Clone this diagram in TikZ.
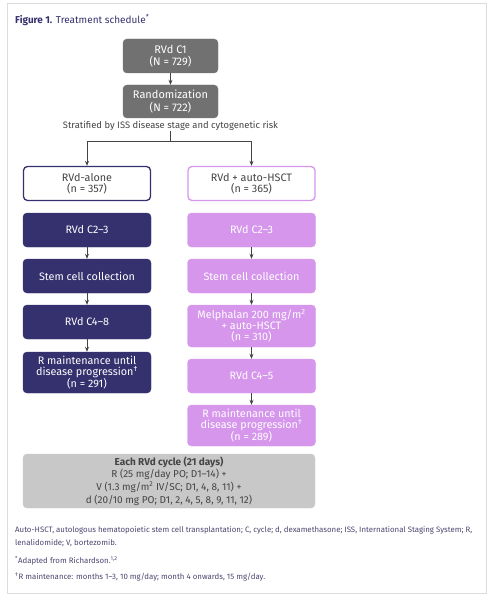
\documentclass[tikz,border=0pt]{standalone}
\usepackage{fontspec}
\setmainfont{Fira Sans}
\usetikzlibrary{arrows.meta}
\definecolor{navy}{HTML}{35306E}
\definecolor{lilac}{HTML}{D596EC}
\definecolor{dgray}{HTML}{717171}
\definecolor{lgray}{HTML}{C8C8C8}
\definecolor{ink}{HTML}{444444}
\definecolor{frame}{HTML}{DCDCDC}
\definecolor{note}{HTML}{4A4670}
\begin{document}
\begin{tikzpicture}[x=1pt,y=-1pt,
  box/.style={rounded corners=4pt, align=center, inner sep=1pt, font=\fontsize{10.8}{11.2}\selectfont},
  topbox/.style={box, fill=dgray, draw=dgray, text=white, minimum width=95pt, font=\fontsize{11}{12.5}\selectfont},
  navybox/.style={box, fill=navy, draw=navy, text=white, minimum width=128pt},
  lilbox/.style={box, fill=lilac, draw=lilac, text=white, minimum width=128pt},
  navyout/.style={box, fill=white, draw=navy, line width=1.3pt, text=ink, minimum width=127pt},
  lilout/.style={box, fill=white, draw=lilac, line width=1.3pt, text=ink, minimum width=127pt},
  arr/.style={draw=ink, line width=0.7pt, -{Stealth[length=5pt,width=4pt]}},
  ln/.style={draw=ink, line width=0.7pt},
  fn/.style={anchor=west, inner sep=0pt, text=note, font=\fontsize{7.85}{12}\selectfont}
]
\useasboundingbox (0,0) rectangle (495,599);
\draw[frame, line width=0.8pt] (7.5,3.5) rectangle (486.5,593);
\node[anchor=west, inner sep=0pt, text=navy, font=\fontsize{10}{12}\selectfont] (title) at (15,20) {\textbf{Figure 1.} Treatment schedule\textsuperscript{*}};

\node[topbox, minimum height=34pt] (c1) at (170.5,56) {RVd C1\\(N = 729)};
\node[topbox, minimum height=33pt] (rand) at (170.5,101.5) {Randomization\\(N = 722)};
\node[inner sep=1pt, text=ink, font=\fontsize{9.4}{11}\selectfont] (strat) at (170.5,125.5) {Stratified by ISS disease stage and cytogenetic risk};
\coordinate (split) at (170.5,141);

\node[navyout, minimum height=34pt] (alone) at (87,183.5) {RVd-alone\\(n = 357)};
\node[lilout, minimum height=34pt] (hsct) at (251.5,183.5) {RVd + auto-HSCT\\(n = 365)};

\node[navybox, minimum height=34pt] (l2) at (87,230) {RVd C2–3};
\node[navybox, minimum height=34pt] (l3) at (87,276) {Stem cell collection};
\node[navybox, minimum height=34pt] (l4) at (87,322) {RVd C4–8};
\node[navybox, minimum height=41pt] (l5) at (87,372.5) {R maintenance until\\disease progression\textsuperscript{†}\\(n = 291)};

\node[lilbox, minimum height=34pt] (r2) at (251.5,230) {RVd C2–3};
\node[lilbox, minimum height=34pt] (r3) at (251.5,276) {Stem cell collection};
\node[lilbox, minimum height=42pt] (r4) at (251.5,326) {Melphalan 200 mg/m\textsuperscript{2}\\+ auto-HSCT\\(n = 310)};
\node[lilbox, minimum height=34pt] (r5) at (251.5,376) {RVd C4–5};
\node[lilbox, minimum height=41pt] (r6) at (251.5,425.5) {R maintenance until\\disease progression\textsuperscript{†}\\(n = 289)};

\node[box, fill=lgray, draw=lgray, text=ink, minimum width=292pt, minimum height=54pt, font=\fontsize{10}{12.6}\selectfont] (cycle) at (169,481)
 {\textbf{Each RVd cycle (21 days)}\\R (25 mg/day PO; D1–14) +\\V (1.3 mg/m\textsuperscript{2} IV/SC; D1, 4, 8, 11) +\\d (20/10 mg PO; D1, 2, 4, 5, 8, 9, 11, 12)};

\draw[arr] (c1) -- (rand);
\draw[ln] (strat.south) -- (split);
\draw[arr] (split) -| (alone.north);
\draw[arr] (split) -| (hsct.north);
\draw[arr] (l2) -- (l3);
\draw[arr] (l3) -- (l4);
\draw[arr] (l4) -- (l5);
\draw[arr] (r2) -- (r3);
\draw[arr] (r3) -- (r4);
\draw[arr] (r4) -- (r5);
\draw[arr] (r5) -- (r6);

\node[fn] (n1) at (15,530.5) {Auto-HSCT, autologous hematopoietic stem cell transplantation; C, cycle; d, dexamethasone; ISS, International Staging System; R,};
\node[fn] (n2) at (15,543) {lenalidomide; V, bortezomib.};
\node[fn] (n3) at (15,561) {\textsuperscript{*}Adapted from Richardson.\textsuperscript{1,2}};
\node[fn] (n4) at (15,577) {\textsuperscript{†}R maintenance: months 1–3, 10 mg/day; month 4 onwards, 15 mg/day.};
\end{tikzpicture}
\end{document}
